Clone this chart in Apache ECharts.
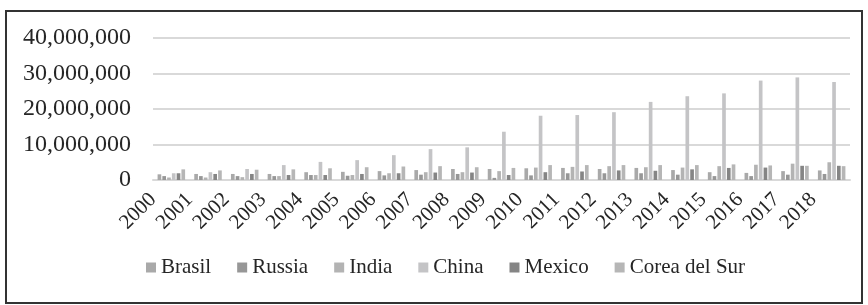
<!DOCTYPE html>
<html>
<head>
<meta charset="utf-8">
<script src="https://cdn.jsdelivr.net/npm/echarts@6/dist/echarts.min.js"></script>
<style>
  html, body { margin: 0; padding: 0; background: #fff; }
  #frame {
    position: absolute; left: 5px; top: 10px; width: 854px; height: 290px;
    border: 2px solid #333;
  }
  #chart { position: absolute; left: 0; top: 0; width: 868px; height: 305px; }
</style>
</head>
<body>
<div id="frame"></div>
<div id="chart"></div>
<script>
// 年份
const years = ['2000', '2001', '2002', '2003', '2004', '2005', '2006', '2007', '2008', '2009',
  '2010', '2011', '2012', '2013', '2014', '2015', '2016', '2017', '2018']

// 各国数据
const brasil = [1600000, 1700000, 1700000, 1700000, 2200000, 2300000, 2500000, 2800000, 3100000, 3100000,
  3300000, 3400000, 3100000, 3400000, 2800000, 2200000, 2000000, 2500000, 2700000]
const russia = [1100000, 1100000, 1100000, 1100000, 1400000, 1200000, 1300000, 1500000, 1700000, 600000,
  1300000, 1900000, 1900000, 1900000, 1500000, 1100000, 1100000, 1500000, 1700000]
const india = [700000, 700000, 800000, 1100000, 1400000, 1400000, 1900000, 2200000, 2200000, 2500000,
  3500000, 3700000, 3900000, 3600000, 3500000, 3900000, 4300000, 4600000, 5000000]
const china = [1900000, 2200000, 3100000, 4200000, 5100000, 5600000, 7000000, 8700000, 9200000, 13600000,
  18100000, 18300000, 19100000, 22000000, 23600000, 24400000, 28000000, 28900000, 27600000]
const mexico = [1900000, 1700000, 1700000, 1400000, 1400000, 1700000, 1900000, 2100000, 2100000, 1400000,
  2200000, 2400000, 2700000, 2600000, 3000000, 3400000, 3500000, 4000000, 4000000]
const corea = [3000000, 2700000, 2900000, 3000000, 3300000, 3600000, 3800000, 3900000, 3600000, 3400000,
  4200000, 4200000, 4200000, 4200000, 4200000, 4400000, 4100000, 4000000, 3900000]

const seriesNames = ['Brasil', 'Russia', 'India', 'China', 'Mexico', 'Corea del Sur']
const seriesData = [brasil, russia, india, china, mexico, corea]
const colors = ['#a9a9a9', '#979797', '#b3b3b3', '#c4c4c6', '#858585', '#b6b6b6']

const font = 'Liberation Serif'

const chart = echarts.init(document.getElementById('chart'))
const option = {
  animation: false,
  color: colors,
  grid: {
    left: 153,
    right: 18,
    top: 38,
    bottom: 125,
  },
  legend: {
    left: 146,
    top: 257,
    padding: 0,
    itemWidth: 10,
    itemHeight: 10,
    itemGap: 26,
    icon: 'rect',
    textStyle: { fontFamily: font, fontSize: 21, color: '#262626' },
    data: seriesNames,
  },
  xAxis: {
    type: 'category',
    data: years,
    axisLine: { lineStyle: { color: '#d9d9d9', width: 2 } },
    axisTick: { show: false },
    axisLabel: {
      rotate: 45,
      interval: 0,
      margin: -2,
      padding: [0, 26, 0, 0],
      fontFamily: font,
      fontSize: 21,
      color: '#262626',
    },
  },
  yAxis: {
    type: 'value',
    min: 0,
    max: 40000000,
    interval: 10000000,
    axisLine: { show: false },
    axisTick: { show: false },
    splitLine: { lineStyle: { color: '#d9d9d9', width: 2 } },
    axisLabel: {
      margin: 22,
      fontFamily: font,
      fontSize: 24,
      color: '#262626',
      formatter: (v) => v.toLocaleString('en-US'),
    },
  },
  series: seriesNames.map((name, i) => ({
    name: name,
    type: 'bar',
    data: seriesData[i],
    barGap: '30%',
    barCategoryGap: '25%',
  })),
}
chart.setOption(option)
</script>
</body>
</html>
